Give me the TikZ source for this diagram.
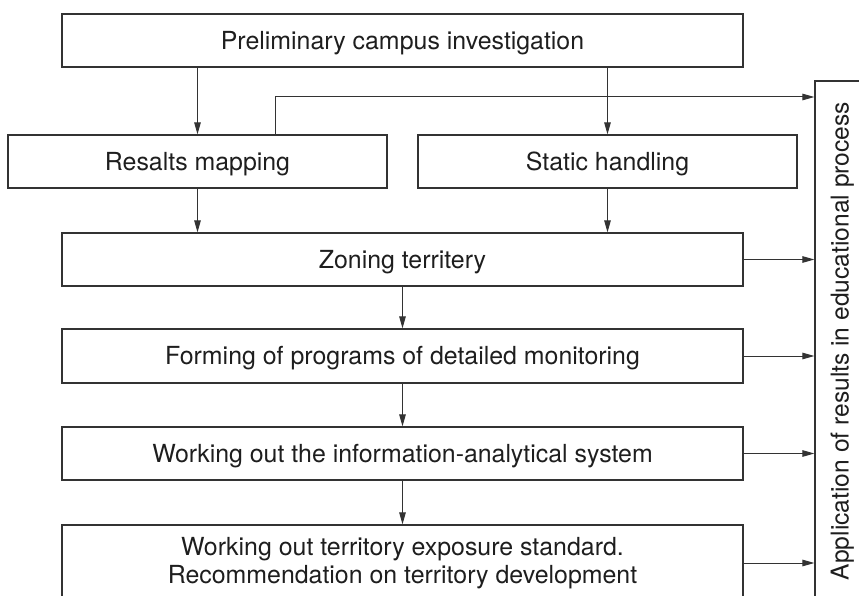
\documentclass[tikz,border=0pt]{standalone}
\usepackage{fontspec}
\setmainfont{TeX Gyre Heros}
\usetikzlibrary{arrows.meta}
\definecolor{ln}{HTML}{333333}
\definecolor{tx}{HTML}{1E1E1E}
\begin{document}
\begin{tikzpicture}[x=1pt,y=-1pt,
  box/.style={draw=ln, line width=1.2pt, rectangle, inner sep=0pt, align=center,
    text=tx, font=\fontsize{24.9}{28}\selectfont},
  oneline/.style={box, text height=17.8pt, text depth=0pt},
  conn/.style={draw=ln, line width=1pt, -{Triangle[length=12pt,width=6.5pt]}}]
\path[use as bounding box, clip] (0,0) rectangle (859,596);
\node[oneline, minimum width=681pt, minimum height=53pt] (top) at (402.5,40.5) {Preliminary campus investigation};
\node[oneline, minimum width=379pt, minimum height=53pt] (res) at (197.5,161.5) {Resalts mapping};
\node[oneline, minimum width=379pt, minimum height=53pt] (sta) at (607.5,161.5) {Static handling};
\node[oneline, minimum width=681pt, minimum height=53pt] (zon) at (402.5,259.5) {Zoning territery};
\node[oneline, minimum width=681pt, minimum height=54pt] (frm) at (402.5,356) {Forming of programs of detailed monitoring};
\node[oneline, minimum width=681pt, minimum height=53pt] (inf) at (402.5,453.5) {Working out the information-analytical system};
\node[box, minimum width=681pt, minimum height=76pt] (lst) at (402.5,563) {Working out territory exposure standard.\\Recommendation on territory development};
\node[draw=ln, line width=1.2pt, rectangle, inner sep=0pt, minimum width=58pt, minimum height=530pt] (app) at (844,346) {};
\node[rotate=90, anchor=base, text=tx, font=\fontsize{24.6}{28}\selectfont, inner sep=0pt] (apptxt) at (848.5,341) {Application of results in educational process};
% vertical arrows
\draw[conn] (top.south -| res) -- (res.north);
\draw[conn] (top.south -| sta) -- (sta.north);
\draw[conn] (res.south) -- (res.south |- zon.north);
\draw[conn] (sta.south) -- (sta.south |- zon.north);
\draw[conn] (zon.south) -- (frm.north);
\draw[conn] (frm.south) -- (inf.north);
\draw[conn] (inf.south) -- (lst.north);
% branch from Resalts mapping
\coordinate (rs) at ([xshift=77.5pt]res.north);
\coordinate (rk) at (275,97);
\draw[conn] (rs) -- (rk) -- (rk -| app.west);
% right arrows
\draw[conn] (zon.east) -- (zon.east -| app.west);
\draw[conn] (frm.east) -- (frm.east -| app.west);
\draw[conn] (inf.east) -- (inf.east -| app.west);
\draw[conn] (lst.east) -- (lst.east -| app.west);
\end{tikzpicture}
\end{document}
